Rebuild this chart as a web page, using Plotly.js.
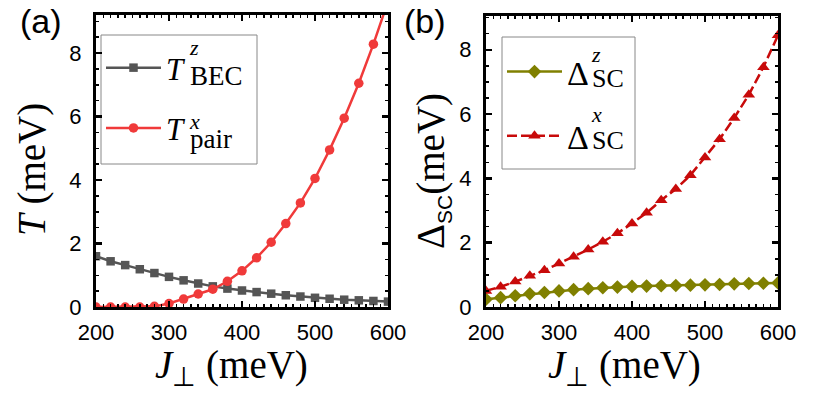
<!DOCTYPE html>
<html>
<head>
<meta charset="utf-8">
<script src="https://cdn.plot.ly/plotly-3.0.1.min.js"></script>
<style>html,body{margin:0;padding:0;background:#fff;}#chart{width:830px;height:400px;}</style>
</head>
<body>
<div id="chart"></div>
<script>
var jPerp = [200,220,240,260,280,300,320,340,360,380,400,420,440,460,480,500,520,540,560,580,600];
var tBECz = [1.60,1.44,1.32,1.19,1.07,0.95,0.84,0.74,0.65,0.58,0.52,0.47,0.42,0.37,0.33,0.29,0.26,0.23,0.21,0.19,0.17];
var tPairX = [0.00,0.00,0.00,0.00,0.02,0.11,0.25,0.41,0.56,0.81,1.14,1.55,2.04,2.63,3.28,4.05,4.95,5.95,7.05,8.28,9.63];
var dSCz = [0.24,0.29,0.35,0.41,0.45,0.50,0.54,0.57,0.60,0.62,0.64,0.65,0.66,0.67,0.68,0.69,0.70,0.72,0.73,0.74,0.75];
var dSCx = [0.50,0.63,0.79,0.97,1.14,1.35,1.56,1.79,2.03,2.29,2.60,2.93,3.32,3.67,4.10,4.65,5.22,5.88,6.60,7.46,8.45];
var xTicks = [200,300,400,500,600];
var yTicks = [0,2,4,6,8];

var serif = "Liberation Serif, Times New Roman, serif";
var sans = "Liberation Sans, Arial, sans-serif";

function px(x){ return x/830; }
function py(y){ return 1 - y/400; }

var traces = [
  {x: jPerp, y: tBECz, xaxis:'x', yaxis:'y', mode:'lines+markers', name:'<i>T</i>',
   line:{color:'#555555', width:2.5}, marker:{symbol:'square', size:8.5, color:'#555555'}, legend:'legend', legendgroup:'a1'},
  {x: jPerp, y: tPairX, xaxis:'x', yaxis:'y', mode:'lines+markers', name:'<i>T</i>',
   line:{color:'#f03a3a', width:2.5}, marker:{symbol:'circle', size:9.5, color:'#f03a3a'}, legend:'legend', legendgroup:'a2'},
  {x: jPerp, y: dSCz, xaxis:'x2', yaxis:'y2', mode:'lines+markers', name:'Δ',
   line:{color:'#808000', width:2.5}, marker:{symbol:'diamond', size:10.5, color:'#808000'}, legend:'legend2', legendgroup:'b1'},
  {x: jPerp, y: dSCx, xaxis:'x2', yaxis:'y2', mode:'lines+markers', name:'Δ',
   line:{color:'#c80a0a', width:2.5, dash:'10px,4px'}, marker:{symbol:'triangle-up', size:11, color:'#c80a0a'}, legend:'legend2', legendgroup:'b2'}
];

function xax(domain, anchor){
  return {domain:domain, anchor:anchor, range:[200,600], tickvals:xTicks, ticktext:xTicks.map(String),
    showline:true, linecolor:'#000', linewidth:3, mirror:'allticks', ticks:'inside', ticklen:6, tickwidth:2.5, tickcolor:'#000',
    minor:{ticks:'inside', dtick:10, ticklen:3, tickwidth:1.5, tickcolor:'#000'},
    showgrid:false, zeroline:false, tickfont:{family:sans, size:22, color:'#000'}, ticklabelstandoff:4};
}
function yax(domain, anchor, range){
  return {domain:domain, anchor:anchor, range:range, tickvals:yTicks, ticktext:yTicks.map(String),
    showline:true, linecolor:'#000', linewidth:3, mirror:'allticks', ticks:'inside', ticklen:6, tickwidth:2.5, tickcolor:'#000',
    minor:{ticks:'inside', dtick:0.5, ticklen:3, tickwidth:1.5, tickcolor:'#000'},
    showgrid:false, zeroline:false, tickfont:{family:sans, size:22, color:'#000'}, ticklabelstandoff:7};
}

function ann(text, x, y, size, fam, opts){
  return Object.assign({text:text, xref:'paper', yref:'paper', x:px(x), y:py(y), xanchor:'left', yanchor:'middle', showarrow:false,
    font:{family:fam || serif, size:size, color:'#000'}}, opts || {});
}
function stack(sup, sub, supSize, subSize){
  return '<span style="font-size:' + supSize + 'px"><i>' + sup + '</i></span><br><span style="font-size:' + subSize + 'px">' + sub + '</span>';
}

var legendBase = {xanchor:'left', yanchor:'top', bgcolor:'rgba(0,0,0,0)', borderwidth:0,
  font:{family:serif, size:31, color:'#000'}, itemwidth:55, traceorder:'grouped', tracegroupgap:17};

var xTitle = '<i>J</i><sub>⊥</sub> (meV)';
var yTitleA = '<i>T</i> (meV)';
var yTitleB = 'Δ<sub><span style="font-family:Liberation Sans, Arial, sans-serif;font-size:21px">SC</span></sub>(meV)';

var layout = {
  width:830, height:400, margin:{l:0,r:0,t:0,b:0}, paper_bgcolor:'#fff', plot_bgcolor:'#fff',
  showlegend:true,
  xaxis: xax([px(96), px(388)], 'y'),
  yaxis: yax([py(307), py(15)], 'x', [0, 9.2]),
  xaxis2: xax([px(486), px(778)], 'y2'),
  yaxis2: yax([py(307), py(16)], 'x2', [0, 9.05]),
  legend: Object.assign({}, legendBase, {x:px(101), y:py(41)}),
  legend2: Object.assign({}, legendBase, {x:px(502), y:py(43), font:{family:serif, size:34, color:'#000'}}),
  shapes:[
    {type:'rect', xref:'paper', yref:'paper', x0:px(101), x1:px(257), y0:py(164), y1:py(35), line:{color:'#888', width:1}, fillcolor:'#fff', layer:'below'},
    {type:'rect', xref:'paper', yref:'paper', x0:px(502), x1:px(635), y0:py(169), y1:py(37), line:{color:'#888', width:1}, fillcolor:'#fff', layer:'below'}
  ],
  annotations:[
    ann('(a)', 18, 21, 34, sans),
    ann('(b)', 402, 21, 34, sans),
    ann(xTitle, 231, 367, 39, serif, {xanchor:'center'}),
    ann(xTitle, 624, 367, 39, serif, {xanchor:'center'}),
    ann(yTitleA, 32, 170, 39, serif, {xanchor:'center', textangle:-90}),
    ann(yTitleB, 432, 171, 39, serif, {xanchor:'center', textangle:-90}),
    ann(stack('z', 'BEC', 22, 27), 187, 63, 23, serif, {align:'left'}),
    ann(stack('x', 'pair', 22, 27), 187, 131.5, 14.6, serif, {align:'left'}),
    ann(stack('z', 'SC', 22, 26), 589, 67.5, 19.2, serif, {align:'left'}),
    ann(stack('x', 'SC', 22, 26), 589, 128.5, 20.8, serif, {align:'left'})
  ]
};

Plotly.newPlot('chart', traces, layout, {staticPlot:true});
</script>
</body>
</html>
